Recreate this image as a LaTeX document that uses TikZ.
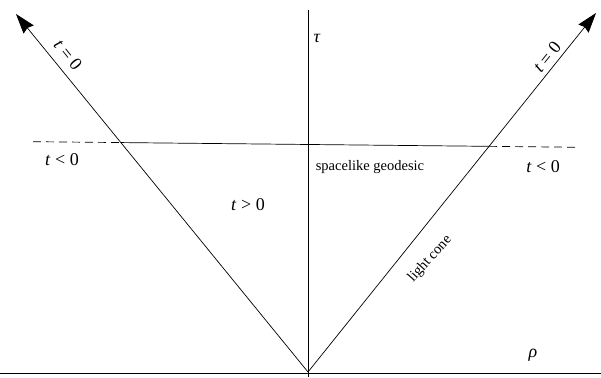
\documentclass[tikz,border=0pt]{standalone}
\usepackage{fontspec}
\setmainfont{Liberation Serif}
\usetikzlibrary{arrows.meta,calc}
\tikzset{lbl/.style={font=\fontsize{18}{20}\selectfont},
  capt/.style={font=\fontsize{14.5}{16}\selectfont},
  thin line/.style={line width=0.7pt}}

\begin{document}
\begin{tikzpicture}[x=1pt,y=1pt,>={Stealth[length=20pt,width=13pt,inset=2pt]},line join=round,thin line]
\useasboundingbox (0,0) rectangle (601,377);
% --- axes and light cone
\coordinate (O) at (308,5); \coordinate (Ltip) at (16,363); \coordinate (Rtip) at (596,364);
\coordinate (Vtop) at (308,367); \coordinate (Vbot) at (308,0);
\coordinate (Hl) at (0,4); \coordinate (Hr) at (601,4);
\draw (Hl) -- (Hr); \draw (Vbot) -- (Vtop);
\draw[->] (O) -- (Ltip); \draw[->] (O) -- (Rtip);
% --- spacelike geodesic, dashed outside the cone
\coordinate (A) at (33,235.3); \coordinate (B) at (580,229.7);
\coordinate (P) at (intersection of O--Ltip and A--B);
\coordinate (Q) at (intersection of O--Rtip and A--B);
\draw[dash pattern=on 8pt off 5pt] (A) -- (P) (Q) -- (B);
\draw (P) -- (Q);
% --- labels
\node[lbl] (tau) at (317,339) {\textit{τ}};
\node[lbl] (rho) at (533,22) {\textit{ρ}};
\node[lbl,rotate=-51] (tzl) at (68,322) {\textit{t} = 0};
\node[lbl,rotate=51] (tzr) at (547,320) {\textit{t} = 0};
\node[lbl] (tnl) at (62,217) {\textit{t} < 0};
\node[lbl] (tnr) at (543,210) {\textit{t} < 0};
\node[lbl] (tpos) at (248,172) {\textit{t} > 0};
\node[capt] (geod) at (370,210) {spacelike geodesic};
\node[capt,rotate=48,inner sep=1pt] (cone) at (430,118) {light cone};
\end{tikzpicture}
\end{document}
